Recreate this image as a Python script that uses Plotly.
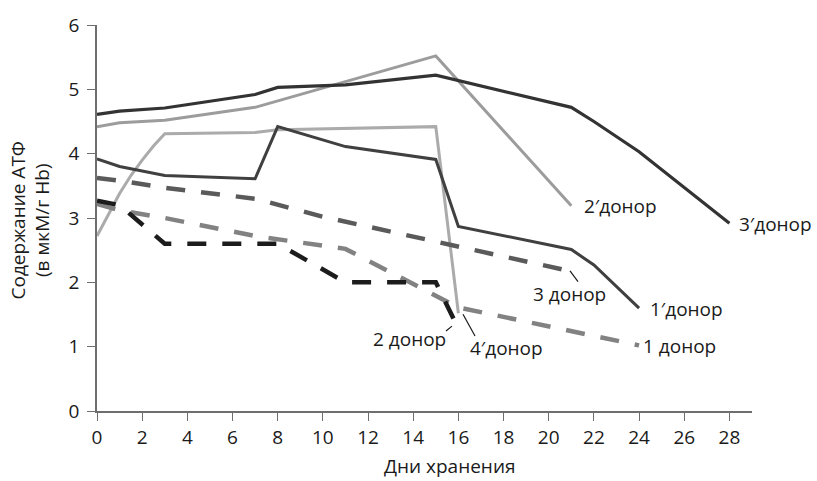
import plotly.graph_objects as go

# ---- data ----
days_1p = [0, 1, 3, 7, 8, 11, 15, 16, 21, 22, 24]
atp_1p = [3.92, 3.8, 3.66, 3.61, 4.42, 4.11, 3.91, 2.87, 2.51, 2.27, 1.6]

days_2p = [0, 1, 3, 7, 15, 21]
atp_2p = [4.42, 4.48, 4.52, 4.72, 5.52, 3.19]

days_3p = [0, 1, 3, 7, 8, 11, 15, 21, 22, 24, 28]
atp_3p = [4.61, 4.66, 4.71, 4.92, 5.03, 5.07, 5.22, 4.72, 4.5, 4.03, 2.92]

days_4p = [0, 0.5, 1, 1.5, 2, 2.5, 3, 7, 8, 15, 16]
atp_4p = [2.72, 3.05, 3.38, 3.66, 3.9, 4.12, 4.31, 4.33, 4.37, 4.42, 1.52]

days_1 = [0, 1, 3, 7, 11, 16, 24]
atp_1 = [3.22, 3.12, 3.0, 2.72, 2.52, 1.61, 1.02]

days_2 = [0, 1, 3, 8, 11, 15, 16]
atp_2 = [3.27, 3.2, 2.6, 2.6, 2.0, 2.0, 1.28]

days_3 = [0, 1, 3, 7, 10, 21]
atp_3 = [3.62, 3.58, 3.47, 3.3, 3.02, 2.17]

x_ticks = list(range(0, 30, 2))
y_ticks = [0, 1, 2, 3, 4, 5, 6]

FONT = "Open Sans"
FS = 19
DASH = "19px,16px"

fig = go.Figure()

def add(x, y, color, width, dash="solid"):
    fig.add_trace(go.Scatter(x=x, y=y, mode="lines",
                             line=dict(color=color, width=width, dash=dash),
                             showlegend=False, hoverinfo="skip"))

add(days_4p, atp_4p, "#ababab", 3)
add(days_2p, atp_2p, "#9c9c9c", 3)
add(days_3p, atp_3p, "#333333", 3.2)
add(days_1p, atp_1p, "#404040", 3)
add(days_1, atp_1, "#828282", 4.5, DASH)
add(days_3, atp_3, "#5a5a5a", 4.5, DASH)
add(days_2, atp_2, "#1c1c1c", 4.5, DASH)

# pixel -> paper helpers for label placement
PX0, PX1, PY0, PY1 = 97, 752, 411, 20
XMAX, YMAX = 29, 6
def px_(px):
    return (px - PX0) / (PX1 - PX0)
def py_(py):
    return (PY0 - py) / (PY0 - PY1)

labels = [
    ("2′донор", 620, 203),
    ("3′донор", 775, 222),
    ("1′донор", 686, 308),
    ("1 донор", 679, 345),
    ("3 донор", 569, 292),
    ("2 донор", 409, 338),
    ("4′донор", 506, 347),
]
for txt, x, y in labels:
    fig.add_annotation(x=px_(x), y=py_(y), xref="paper", yref="paper", text=txt,
                       showarrow=False, xanchor="center", yanchor="middle",
                       font=dict(family=FONT, size=FS, color="#1a1a1a"))

leaders = [
    (570, 269, 578, 280),
    (446, 330, 452, 325),
    (463, 313, 475, 335),
]
for x0, y0, x1, y1 in leaders:
    fig.add_shape(type="line", xref="paper", yref="paper",
                  x0=px_(x0), y0=py_(y0), x1=px_(x1), y1=py_(y1),
                  line=dict(color="#1a1a1a", width=1.2))

fig.add_annotation(x=px_(449), y=py_(467),
                   xref="paper", yref="paper", text="Дни хранения",
                   showarrow=False, xanchor="center", yanchor="middle",
                   font=dict(family=FONT, size=FS, color="#1a1a1a"))
fig.add_annotation(x=px_(30), y=py_(218),
                   xref="paper", yref="paper",
                   text="Содержание АТФ<br>(в мкМ/г Hb)", textangle=-90,
                   showarrow=False, xanchor="center", yanchor="middle",
                   font=dict(family=FONT, size=FS, color="#1a1a1a"))

axis_common = dict(showgrid=False, zeroline=False, showline=True,
                   linecolor="#6e6e6e", linewidth=1.5,
                   ticks="outside", ticklen=8, tickwidth=1.2, tickcolor="#6e6e6e",
                   tickfont=dict(family=FONT, size=FS, color="#1a1a1a"))

fig.update_layout(
    width=817, height=481,
    margin=dict(l=97, r=65, t=20, b=70),
    paper_bgcolor="white", plot_bgcolor="white",
    xaxis=dict(range=[0, XMAX], tickvals=x_ticks, **axis_common),
    yaxis=dict(range=[0, YMAX], tickvals=y_ticks, ticklabelstandoff=4,
               **axis_common),
)

fig.write_html("out.html")
